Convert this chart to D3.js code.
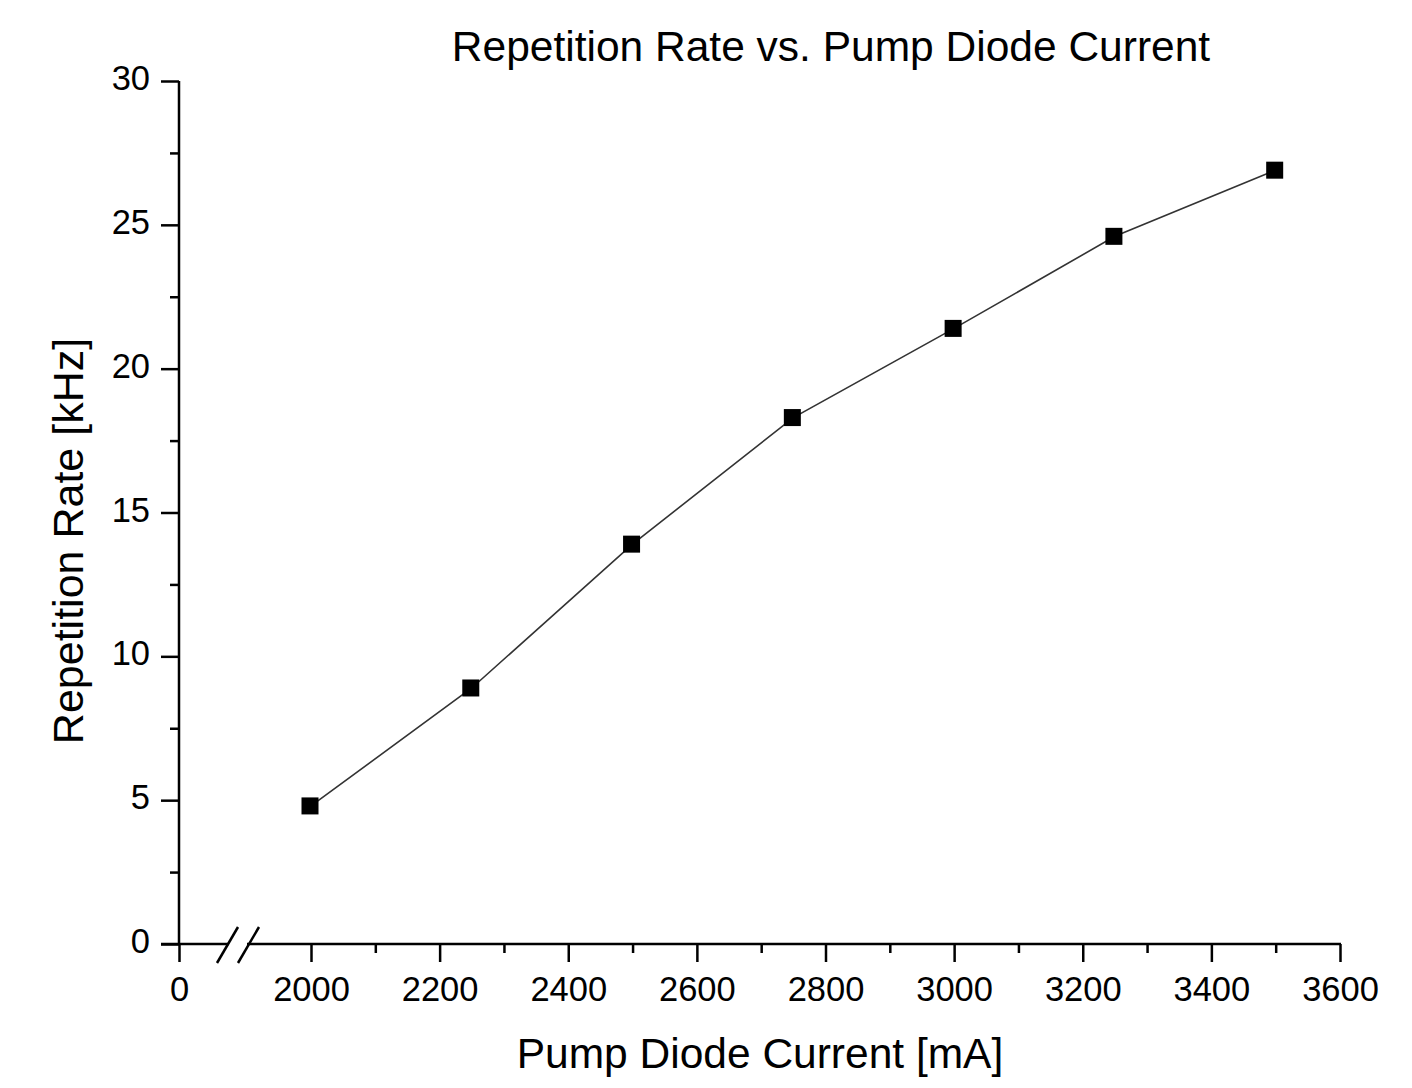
<!DOCTYPE html>
<html>
<head>
<meta charset="utf-8">
<script src="https://cdn.jsdelivr.net/npm/d3@7"></script>
<style>
  html, body { margin: 0; padding: 0; background: #fff; }
  svg text { font-family: "Liberation Sans", Arial, sans-serif; fill: #000; }
</style>
</head>
<body>
<svg id="chart" width="1412" height="1088"></svg>
<script>
// ---- data ----
const currents = [2000, 2250, 2500, 2750, 3000, 3250, 3500];
const repRates = [4.8, 8.9, 13.9, 18.3, 21.4, 24.6, 26.9];
const xTickValues = [0, 2000, 2200, 2400, 2600, 2800, 3000, 3200, 3400, 3600];
const xMinorValues = [2100, 2300, 2500, 2700, 2900, 3100, 3300, 3500];
const yTickValues = [0, 5, 10, 15, 20, 25, 30];
const yMinorValues = [2.5, 7.5, 12.5, 17.5, 22.5, 27.5];
const chartTitle = "Repetition Rate vs. Pump Diode Current";
const xTitle = "Pump Diode Current [mA]";
const yTitle = "Repetition Rate [kHz]";

(function () {
const svg = d3.select("#chart");
const pLeft = 179, pRight = 1340, pTop = 81, pBottom = 944;

// broken x axis: 0 ... // ... 2000-3600
const x = d3.scaleLinear().domain([0, 2000, 3600]).range([pLeft, 311, pRight]);
const y = d3.scaleLinear().domain([0, 30]).range([pBottom, pTop]);

const g = svg.append("g");

// Y axis
const yAxis = d3.axisLeft(y).tickValues(yTickValues).tickSize(18).tickPadding(10).tickFormat(d3.format("d"));
const yG = g.append("g").attr("transform", `translate(${pLeft},0)`).call(yAxis);
yG.select(".domain").remove();
yG.selectAll(".tick line").attr("stroke", "#000").attr("stroke-width", 2.5);
yG.selectAll(".tick text").attr("font-size", 34.5).attr("dy", "0.25em").attr("x", -29);
g.append("line").attr("x1", pLeft).attr("x2", pLeft).attr("y1", pTop).attr("y2", pBottom)
  .attr("stroke", "#000").attr("stroke-width", 2.5);
const yMin = d3.axisLeft(y).tickValues(yMinorValues).tickSize(9).tickFormat("");
const yMG = g.append("g").attr("transform", `translate(${pLeft},0)`).call(yMin);
yMG.select(".domain").remove();
yMG.selectAll(".tick line").attr("stroke", "#000").attr("stroke-width", 2.5);

// X axis
const xAxis = d3.axisBottom(x).tickValues(xTickValues).tickSize(18).tickPadding(11).tickFormat(d3.format("d"));
const xG = g.append("g").attr("transform", `translate(0,${pBottom})`).call(xAxis);
xG.select(".domain").remove();
xG.selectAll(".tick line").attr("stroke", "#000").attr("stroke-width", 2.5);
xG.selectAll(".tick text").attr("font-size", 34.5).attr("dy", "0.8em");
const xMin = d3.axisBottom(x).tickValues(xMinorValues).tickSize(9).tickFormat("");
const xMG = g.append("g").attr("transform", `translate(0,${pBottom})`).call(xMin);
xMG.select(".domain").remove();
xMG.selectAll(".tick line").attr("stroke", "#000").attr("stroke-width", 2.5);

// x axis line with break
g.append("line").attr("x1", pLeft - 18).attr("x2", 229).attr("y1", pBottom).attr("y2", pBottom)
  .attr("stroke", "#000").attr("stroke-width", 2.5);
g.append("line").attr("x1", 247).attr("x2", pRight + 1).attr("y1", pBottom).attr("y2", pBottom)
  .attr("stroke", "#000").attr("stroke-width", 2.5);
[[217, 238], [238, 259]].forEach(([a, b]) => {
  g.append("line").attr("x1", a).attr("y1", pBottom + 19).attr("x2", b).attr("y2", pBottom - 17)
    .attr("stroke", "#000").attr("stroke-width", 2.5);
});

// data line
const pts = currents.map((c, i) => [c, repRates[i]]);
g.append("path").datum(pts)
  .attr("fill", "none").attr("stroke", "#333").attr("stroke-width", 1.6)
  .attr("d", d3.line().x(d => x(d[0])).y(d => y(d[1])));

// markers
const s = 17;
g.selectAll("rect.pt").data(pts).enter().append("rect").attr("class", "pt")
  .attr("x", d => x(d[0]) - s / 2 - 1).attr("y", d => y(d[1]) - s / 2)
  .attr("width", s).attr("height", s).attr("fill", "#000");

// titles
svg.append("text").attr("x", 831).attr("y", 61).attr("text-anchor", "middle")
  .attr("font-size", 42.5).text(chartTitle);
svg.append("text").attr("x", 760).attr("y", 1068).attr("text-anchor", "middle")
  .attr("font-size", 42.5).text(xTitle);
svg.append("text").attr("transform", "translate(83,541) rotate(-90)").attr("text-anchor", "middle")
  .attr("font-size", 43).text(yTitle);
})();
</script>
</body>
</html>
